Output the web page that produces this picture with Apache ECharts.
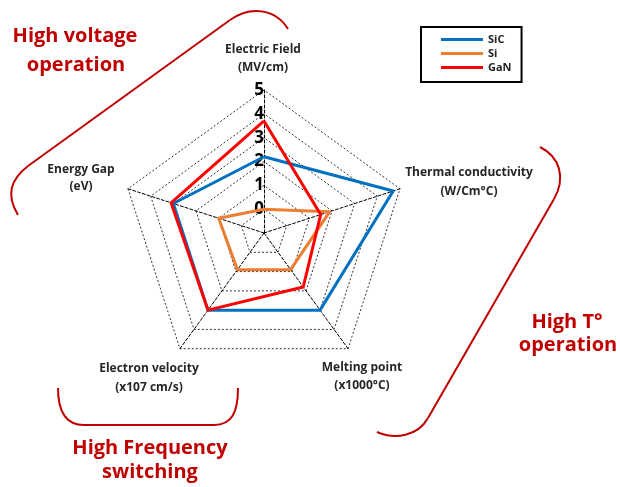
<!DOCTYPE html>
<html>
<head>
<meta charset="utf-8">
<title>SiC / Si / GaN radar</title>
<script src="https://cdn.jsdelivr.net/npm/echarts@6/dist/echarts.min.js"></script>
<style>
  html, body { margin: 0; padding: 0; background: #fff; }
  #main { width: 620px; height: 487px; }
</style>
</head>
<body>
<div id="main"></div>
<script>
// axes, in the order echarts walks them (top first, then counter-clockwise)
const indicatorNames = [
  'Electric Field\n(MV/cm)',
  'Energy Gap\n(eV)',
  'Electron velocity\n(x107 cm/s)',
  'Melting point\n(x1000°C)',
  'Thermal conductivity\n(W/Cm°C)'
]
const axisMin = -1
const axisMax = 5

const seriesNames = ['SiC', 'Si', 'GaN']
const sicValues = [2.2, 3.0, 3.0, 3.0, 4.7]
const siValues = [0, 1.0, 0.9, 0.9, 1.9]
const ganValues = [3.7, 3.1, 3.0, 1.8, 1.5]

const colors = ['#0070C0', '#ED7D31', '#FF0000']
const darkRed = '#C00000'
const labelFont = '"Open Sans", "DejaVu Sans", sans-serif'

// where the axis names sit (centre of each line)
const namePos = [
  [263, 50, 18],
  [81, 170, 17],
  [149, 369, 19],
  [362, 368, 18],
  [469, 173, 19]
]

var myChart = echarts.init(document.getElementById('main'))

const graphics = []
indicatorNames.forEach((name, i) => {
  name.split('\n').forEach((line, j) => {
    graphics.push({
      type: 'text',
      x: namePos[i][0],
      y: namePos[i][1] + j * namePos[i][2],
      style: {
        text: line,
        fill: '#262626',
        font: 'bold 12px ' + labelFont,
        align: 'center',
        verticalAlign: 'middle'
      }
    })
  })
})

// red call-outs round the chart
function note(text, x, y) {
  graphics.push({
    type: 'text', x: x, y: y,
    style: { text: text, fill: darkRed, font: 'bold 20px ' + labelFont, align: 'center', verticalAlign: 'middle' }
  })
}
function curve(x1, y1, cpx1, cpy1, cpx2, cpy2, x2, y2) {
  graphics.push({
    type: 'bezierCurve',
    shape: { x1: x1, y1: y1, cpx1: cpx1, cpy1: cpy1, cpx2: cpx2, cpy2: cpy2, x2: x2, y2: y2 },
    style: { stroke: darkRed, lineWidth: 2, fill: null }
  })
}
function seg(x1, y1, x2, y2) {
  graphics.push({
    type: 'line',
    shape: { x1: x1, y1: y1, x2: x2, y2: y2 },
    style: { stroke: darkRed, lineWidth: 2 }
  })
}
note('High voltage', 75, 36)
note('operation', 76, 65)
note('High T°', 567, 322)
note('operation', 568, 345)
note('High Frequency', 150, 448)
note('switching', 150, 472)

curve(18, 215, 6, 195, 10, 180, 28, 166)
seg(28, 166, 230, 20)
curve(230, 20, 250, 6, 275, 8, 288, 29)

curve(540, 147, 560, 157, 566, 178, 554, 199)
seg(554, 199, 428, 418)
curve(428, 418, 418, 436, 395, 440, 377, 432)

curve(58, 388, 58, 412, 66, 425, 84, 425)
seg(84, 425, 214, 425)
curve(214, 425, 232, 425, 238, 412, 238, 388)

var option = {
  animation: false,
  color: colors,
  legend: {
    orient: 'vertical',
    left: 421,
    top: 27,
    padding: [7, 10, 9, 20],
    borderColor: '#000',
    borderWidth: 2,
    itemGap: 3,
    itemWidth: 42,
    itemHeight: 3,
    icon: 'rect',
    textStyle: { fontFamily: labelFont, fontWeight: 'bold', fontSize: 11, color: '#222' },
    data: seriesNames
  },
  radar: {
    center: [264, 233],
    radius: 143,
    startAngle: 90,
    shape: 'polygon',
    splitNumber: axisMax - axisMin,
    axisName: { show: false },
    axisTick: { show: false },
    axisLabel: { show: false },
    axisLine: { lineStyle: { type: [3, 2], color: '#000', width: 1 } },
    splitLine: { lineStyle: { type: [2, 2], color: '#333', width: 1 } },
    splitArea: { show: false },
    indicator: indicatorNames.map((name, i) => {
      const ind = { name: name, min: axisMin, max: axisMax }
      if (i === 0) {
        // only the top axis carries the 0..5 numbers
        ind.axisLabel = {
          show: true,
          margin: 0,
          color: '#000',
          fontFamily: labelFont,
          fontWeight: 'bold',
          fontSize: 17,
          formatter: v => (v < 0 ? '' : v)
        }
      }
      return ind
    })
  },
  series: [
    {
      type: 'radar',
      symbol: 'none',
      lineStyle: { width: 3 },
      data: [
        { name: seriesNames[0], value: sicValues, lineStyle: { color: colors[0] }, itemStyle: { color: colors[0] } },
        { name: seriesNames[1], value: siValues, lineStyle: { color: colors[1] }, itemStyle: { color: colors[1] } },
        { name: seriesNames[2], value: ganValues, lineStyle: { color: colors[2] }, itemStyle: { color: colors[2] } }
      ]
    }
  ],
  graphic: graphics
}

myChart.setOption(option)
</script>
</body>
</html>
